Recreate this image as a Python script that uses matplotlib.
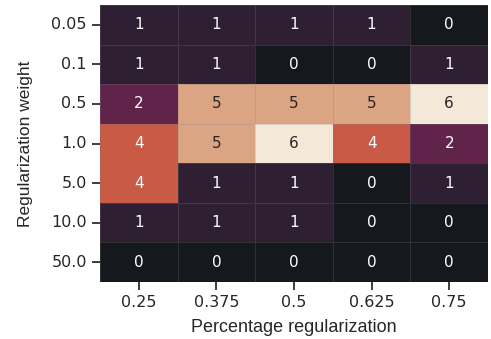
import numpy as np
import matplotlib
matplotlib.use("Agg")
import matplotlib.pyplot as plt
from matplotlib.colors import LinearSegmentedColormap
import seaborn as sns

# percentage of regularization (columns) vs regularization weight (rows)
pct_labels = ["0.25", "0.375", "0.5", "0.625", "0.75"]
weight_labels = ["0.05", "0.1", "0.5", "1.0", "5.0", "10.0", "50.0"]
counts = np.array([
    [1, 1, 1, 1, 0],
    [1, 1, 0, 0, 1],
    [2, 5, 5, 5, 6],
    [4, 5, 6, 4, 2],
    [4, 1, 1, 0, 1],
    [1, 1, 1, 0, 0],
    [0, 0, 0, 0, 0],
])

# muted rocket-like colours as they appear in the original
cmap = LinearSegmentedColormap.from_list("muted_rocket", [
    (0.0, "#15181c"),
    (1/6, "#2f1f33"),
    (2/6, "#60244a"),
    (3/6, "#96304f"),
    (4/6, "#c85a46"),
    (5/6, "#dba482"),
    (1.0, "#f4e9d8"),
])

sns.set_theme(style="ticks", context="notebook")
plt.rcParams['font.family'] = ['DejaVu Sans']

fig, ax = plt.subplots(figsize=(4.91, 3.39), dpi=100)
fig.subplots_adjust(left=100/491, right=488/491, top=1-5/339, bottom=1-282/339)

sns.heatmap(counts, annot=True, fmt="d", cmap=cmap, vmin=0, vmax=6, cbar=False,
            xticklabels=pct_labels, yticklabels=weight_labels,
            linewidths=0.5, linecolor=(0.5, 0.5, 0.5, 0.25),
            annot_kws={"size": 11}, ax=ax)

ax.set_xlabel("Percentage regularization", labelpad=6,
              family="Liberation Sans", fontsize=13)
ax.set_ylabel("Regularization weight", labelpad=13,
              family="Liberation Sans", fontsize=12.5)
ax.tick_params(axis="y", rotation=0, labelsize=11.5)
ax.tick_params(axis="x", rotation=0, labelsize=11.5)

plt.savefig("out.png", dpi=100)
